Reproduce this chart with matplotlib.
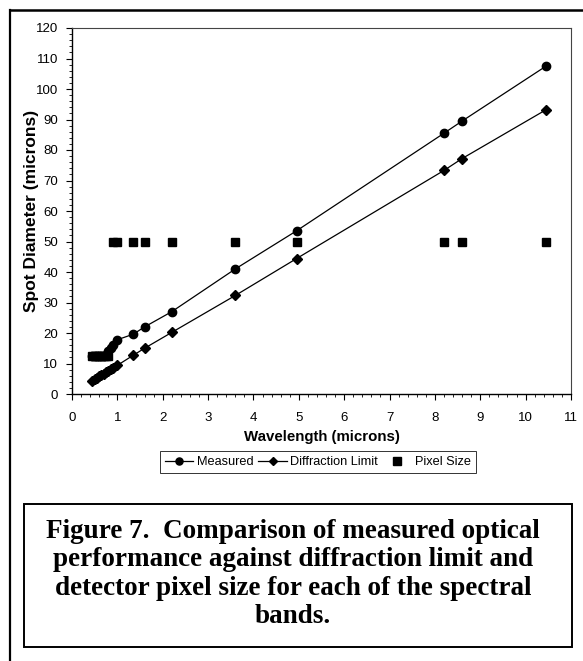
"""Spot diameter vs wavelength: measured, diffraction limit and pixel size."""

import matplotlib
matplotlib.use("Agg")
import matplotlib.pyplot as plt
from matplotlib.lines import Line2D
from matplotlib.patches import Rectangle
from matplotlib.ticker import MultipleLocator

# band wavelengths (microns)
wavelength = [0.45, 0.5, 0.55, 0.6, 0.65, 0.7, 0.75, 0.8, 0.85, 0.9, 1.0,
              1.35, 1.6, 2.2, 3.6, 4.95, 8.2, 8.6, 10.45]
measured = [12.5, 12.5, 12.5, 12.5, 12.5, 12.5, 12.8, 14.0, 15.2, 16.2, 17.8,
            19.6, 22.0, 27.0, 41.0, 53.5, 85.5, 89.5, 107.5]
diffraction = [4.3, 4.8, 5.3, 5.8, 6.2, 6.7, 7.2, 7.7, 8.1, 8.6, 9.4,
               12.7, 15.0, 20.2, 32.3, 44.4, 73.3, 77.2, 93.2]

pixel_wavelength = [0.45, 0.5, 0.55, 0.6, 0.65, 0.7, 0.75, 0.8,
                    0.9, 1.0, 1.35, 1.6, 2.2, 3.6, 4.95, 8.2, 8.6, 10.45]
pixel_size = [12.5, 12.5, 12.5, 12.5, 12.5, 12.5, 12.5, 12.5,
              50, 50, 50, 50, 50, 50, 50, 50, 50, 50]

caption = ("Figure 7.  Comparison of measured optical\n"
           "performance against diffraction limit and\n"
           "detector pixel size for each of the spectral\n"
           "bands.")

plt.rcParams["font.family"] = ["Liberation Sans", "DejaVu Sans"]

W, H = 583, 661
fig = plt.figure(figsize=(W / 100, H / 100), dpi=100)

# page frame (left and top edges only)
fig.add_artist(Line2D([10 / W, 10 / W], [0, 1 - 10 / H], transform=fig.transFigure,
                      color="black", lw=1.6))
fig.add_artist(Line2D([10 / W, 1], [1 - 10 / H, 1 - 10 / H], transform=fig.transFigure,
                      color="black", lw=1.8))

ax = fig.add_axes([72 / W, 1 - 394 / H, (571 - 72) / W, (394 - 28) / H])

ax.plot(wavelength, measured, color="black", lw=0.9, marker="o", ms=6,
        label="Measured")
ax.plot(wavelength, diffraction, color="black", lw=0.9, marker="D", ms=4.8,
        label="Diffraction Limit")
ax.plot(pixel_wavelength, pixel_size, color="black", ls="none", marker="s", ms=6,
        label="Pixel Size")

ax.set_xlim(0, 11)
ax.set_ylim(0, 120)
ax.xaxis.set_major_locator(MultipleLocator(1))
ax.xaxis.set_minor_locator(MultipleLocator(0.2))
ax.yaxis.set_major_locator(MultipleLocator(10))
ax.yaxis.set_minor_locator(MultipleLocator(2))
ax.tick_params(which="major", direction="out", length=4, width=0.8, labelsize=9.5)
ax.tick_params(axis="x", which="major", pad=9)
ax.tick_params(axis="y", which="major", pad=6)
ax.tick_params(which="minor", direction="out", length=2, width=0.6)
for side in ["top", "right"]:
    ax.spines[side].set_linewidth(0.8)
    ax.spines[side].set_color("#444444")
for side in ["left", "bottom"]:
    ax.spines[side].set_linewidth(1.0)

ax.set_xlabel("Wavelength (microns)", fontsize=10.8, fontweight="bold", va="center")
ax.xaxis.set_label_coords(0.5, (394 - 437) / 366)
ax.set_ylabel("Spot Diameter (microns)", fontsize=12.5, fontweight="bold", va="center")
ax.yaxis.set_label_coords((32 - 72) / 499, 0.5)

leg = ax.legend(loc="center", bbox_to_anchor=(318 / W, 1 - 462 / H),
                bbox_transform=fig.transFigure, ncol=3, fontsize=9.2,
                frameon=True, fancybox=False, handlelength=2.2, handletextpad=0.3,
                columnspacing=0.4, borderpad=0.4, borderaxespad=0,
                markerscale=0.85)
leg.get_frame().set_edgecolor("black")
leg.get_frame().set_linewidth(0.7)

# caption box
fig.add_artist(Rectangle((24 / W, 1 - 647 / H), (572 - 24) / W, (647 - 504) / H,
                         transform=fig.transFigure, fill=False,
                         edgecolor="black", lw=1.4))
fig.text(293 / W, 1 - 574 / H, caption, ha="center", va="center",
         family=["Liberation Serif", "DejaVu Serif"], fontweight="bold",
         fontsize=19.5, linespacing=1.16)

fig.savefig("out.png", dpi=100)
